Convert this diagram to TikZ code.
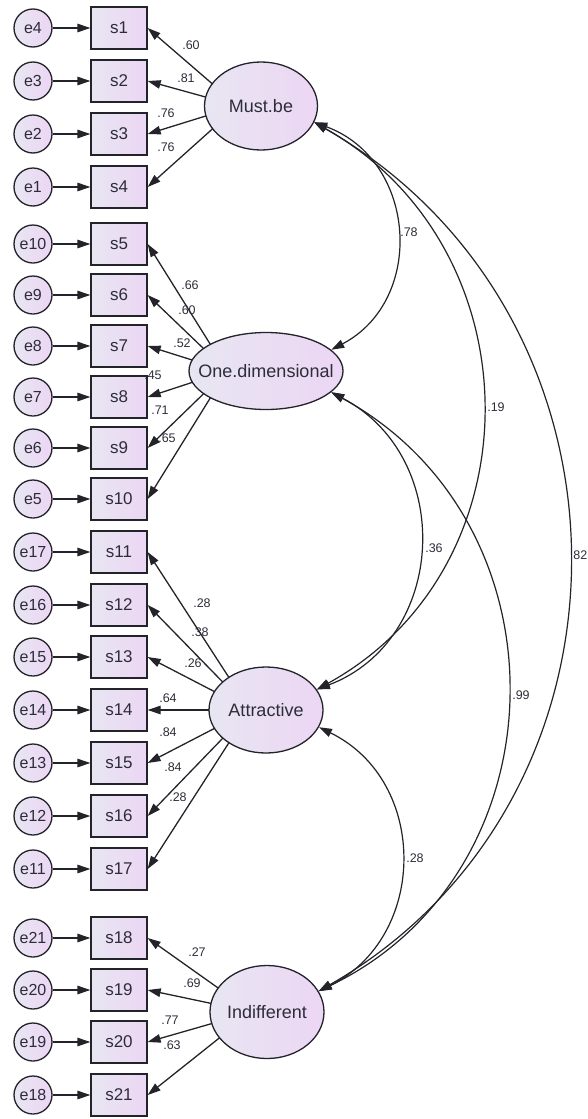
\documentclass[tikz,border=0pt]{standalone}
\usepackage{fontspec}
\setmainfont{Liberation Sans}
\usetikzlibrary{arrows.meta,shapes.geometric}
\pgfdeclarelayer{background}
\pgfsetlayers{background,main}
\definecolor{fillL}{RGB}{232,230,242}
\definecolor{fillR}{RGB}{236,214,244}
\definecolor{ink}{RGB}{35,35,42}
\definecolor{txt}{RGB}{45,45,58}
\begin{document}
\begin{tikzpicture}[x=1pt,y=-1pt,
  >={Triangle[length=13pt,width=8.5pt]},
  arr/.style={->,draw=ink,line width=1.3pt},
  darr/.style={<->,draw=ink,line width=1.2pt},
  obs/.style={draw=ink,line width=1.3pt,left color=fillL,right color=fillR,
    minimum width=56pt,minimum height=42pt,inner sep=0pt,
    font=\fontsize{17}{17}\selectfont,text=txt},
  err/.style={circle,draw=ink,line width=1.3pt,left color=fillL,right color=fillR,
    minimum size=38pt,inner sep=0pt,font=\fontsize{16}{16}\selectfont,text=txt},
  lat/.style={ellipse,draw=ink,line width=1.3pt,left color=fillL,right color=fillR,
    inner sep=0pt},
  latfont/.style={font=\fontsize{18}{18}\selectfont,text=txt},
  lab/.style={font=\fontsize{12.5}{12.5}\selectfont,text=txt,inner sep=0pt}]
\useasboundingbox (0,0) rectangle (588,1119);

% observed variables and errors
\foreach \s/\e/\y in {1/4/28, 2/3/81, 3/2/134, 4/1/187,
  5/10/244, 6/9/295, 7/8/346, 8/7/397, 9/6/448, 10/5/499,
  11/17/552, 12/16/605, 13/15/657, 14/14/710, 15/13/763, 16/12/816, 17/11/869,
  18/21/938, 19/20/990, 20/19/1042, 21/18/1095} {
  \node[err] (e\e) at (33,\y) {e\e};
  \node[obs] (s\s) at (119,\y) {s\s};
  \draw[arr] (e\e) -- (s\s);
}

% latent variables
\node[lat,minimum width=113pt,minimum height=88pt,
  label={[latfont]center:Must.be}] (MB) at (261,106) {};
\node[lat,minimum width=154pt,minimum height=77pt,
  label={[latfont]center:One.dimensional}] (OD) at (266,371) {};
\node[lat,minimum width=114pt,minimum height=86pt,
  label={[latfont]center:Attractive}] (AT) at (266,710) {};
\node[lat,minimum width=114pt,minimum height=93pt,
  label={[latfont]center:Indifferent}] (IN) at (267,1012) {};

\coordinate (MBa) at (238,106);
\coordinate (ODa) at (227,371);
\coordinate (ATa) at (250,710);
\coordinate (INa) at (252,1012);

% loadings
\begin{pgfonlayer}{background}
\foreach \i in {1,...,4} \draw[arr] (MBa) -- (s\i.east);
\foreach \i in {5,...,10} \draw[arr] (ODa) -- (s\i.east);
\foreach \i in {11,...,17} \draw[arr] (ATa) -- (s\i.east);
\foreach \i in {18,...,21} \draw[arr] (INa) -- (s\i.east);
\end{pgfonlayer}

\foreach \x/\y/\t [count=\k] in {191/45/.60, 186/78/.81, 166/113/.76, 166/147/.76,
  190/285/.66, 187/310/.60, 182/343/.52, 153/375/.45, 160/410/.71, 167/438/.65,
  202/603/.28, 200/632/.38, 193/663/.26, 168/698/.64, 168/732/.84, 173/767/.84, 178/797/.28,
  197/952/.27, 192/983/.69, 170/1020/.77, 172/1045/.63}
  \node[lab] (l\k) at (\x,\y) {\t};

% correlations
\draw[darr] (MB.-17) .. controls (417,160) and (426,300) .. (OD.18);
\draw[darr] (MB.-17) .. controls (537,248) and (539,567) .. (AT.22);
\draw[darr] (MB.-17) .. controls (652,316) and (654,799) .. (IN.22);
\draw[darr] (OD.-18) .. controls (456,458) and (447,640) .. (AT.22);
\draw[darr] (OD.-18) .. controls (572,524) and (564,873) .. (IN.22);
\draw[darr] (AT.-18) .. controls (429,781) and (428,937) .. (IN.22);

\node[lab] (c1) at (409,232) {.78};
\node[lab] (c2) at (496,407) {.19};
\node[lab] (c3) at (434,548) {.36};
\node[lab] (c4) at (521,695) {.99};
\node[lab] (c5) at (415,858) {.28};
\node[lab,anchor=east] (c6) at (587.5,555) {.82};
\end{tikzpicture}
\end{document}
